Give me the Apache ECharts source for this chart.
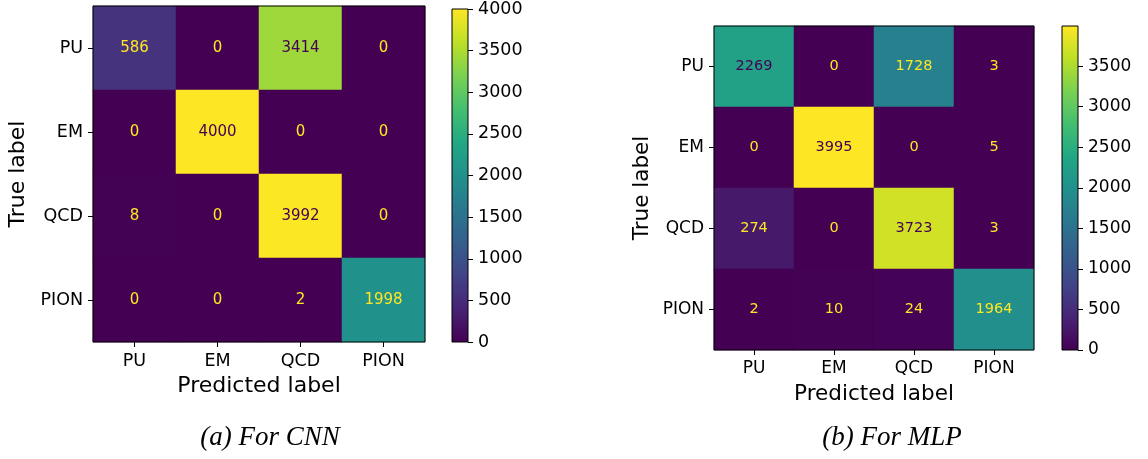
<!DOCTYPE html>
<html>
<head>
<meta charset="utf-8">
<script src="https://cdn.jsdelivr.net/npm/echarts@6/dist/echarts.min.js"></script>
<style>html,body{margin:0;padding:0;background:#fff;}#c{width:1148px;height:459px;}</style>
</head>
<body>
<div id="c"></div>
<script>
// ---- data ----
const classes = ['PU', 'EM', 'QCD', 'PION'];
// rows = true label (top to bottom), columns = predicted label
const cnnMatrix = [
  [586, 0, 3414, 0],
  [0, 4000, 0, 0],
  [8, 0, 3992, 0],
  [0, 0, 2, 1998]
];
const mlpMatrix = [
  [2269, 0, 1728, 3],
  [0, 3995, 0, 5],
  [274, 0, 3723, 3],
  [2, 10, 24, 1964]
];
const cnnColorbarTicks = [0, 500, 1000, 1500, 2000, 2500, 3000, 3500, 4000];
const mlpColorbarTicks = [0, 500, 1000, 1500, 2000, 2500, 3000, 3500];
const captions = ['(a) For CNN', '(b) For MLP'];

const viridis = ['#440154','#482475','#414487','#355f8d','#2a788e','#21918c','#22a884','#44bf70','#7ad151','#bddf26','#fde725'];
const FONT = 'DejaVu Sans';

function flatten(m) {
  let mn = Infinity, mx = -Infinity;
  m.forEach(r => r.forEach(v => { mn = Math.min(mn, v); mx = Math.max(mx, v); }));
  const thr = (mn + mx) / 2;
  const out = [];
  m.forEach((row, i) => row.forEach((v, j) => {
    out.push({ value: [j, i, v], label: { color: v < thr ? viridis[viridis.length - 1] : viridis[0] } });
  }));
  return { data: out, min: mn, max: mx };
}
const cnn = flatten(cnnMatrix);
const mlp = flatten(mlpMatrix);

const grids = [
  { left: 93, top: 6, width: 332, height: 336 },
  { left: 452, top: 6, width: 16, height: 336 },
  { left: 714, top: 26, width: 320, height: 324 },
  { left: 1062, top: 26, width: 16, height: 324 }
].map(g => Object.assign(g, { show: true, borderColor: '#000', borderWidth: 1, backgroundColor: 'transparent', z: 10 }));

function catX(gi, nameGap, fs, nfs) {
  return {
    type: 'category', gridIndex: gi, data: classes, position: 'bottom',
    name: 'Predicted label', nameLocation: 'middle', nameGap: nameGap,
    nameTextStyle: { fontFamily: FONT, fontSize: nfs, color: '#000' },
    axisLine: { show: false },
    axisTick: { show: true, alignWithLabel: true, length: 5, lineStyle: { color: '#000' } },
    axisLabel: { fontFamily: FONT, fontSize: fs, color: '#000', margin: 10 },
    splitLine: { show: false }
  };
}
function catY(gi, nameGap, fs, nfs) {
  return {
    type: 'category', gridIndex: gi, data: classes, inverse: true,
    name: 'True label', nameLocation: 'middle', nameGap: nameGap,
    nameTextStyle: { fontFamily: FONT, fontSize: nfs, color: '#000' },
    axisLine: { show: false },
    axisTick: { show: true, alignWithLabel: true, length: 5, lineStyle: { color: '#000' } },
    axisLabel: { fontFamily: FONT, fontSize: fs, color: '#000', margin: 10 },
    splitLine: { show: false }
  };
}
function cbX(gi) {
  return { type: 'category', gridIndex: gi, data: [''], axisLine: { show: false }, axisTick: { show: false }, axisLabel: { show: false } };
}
function cbY(gi, max, ticks, fs) {
  return {
    type: 'value', gridIndex: gi, position: 'right', min: 0, max: max, interval: 500,
    axisLine: { show: false },
    axisTick: { show: true, length: 5, lineStyle: { color: '#000' }, customValues: ticks },
    axisLabel: { fontFamily: FONT, fontSize: fs, color: '#000', margin: 10, customValues: ticks, formatter: v => String(v) },
    splitLine: { show: false }
  };
}
function gradient() {
  return new echarts.graphic.LinearGradient(0, 1, 0, 0,
    viridis.map((c, i) => ({ offset: i / (viridis.length - 1), color: c })));
}
function heat(xi, yi, d, fs) {
  return {
    type: 'heatmap', xAxisIndex: xi, yAxisIndex: yi, data: d,
    label: { show: true, fontFamily: FONT, fontSize: fs, formatter: p => p.value[2] },
    emphasis: { disabled: true }, itemStyle: { borderWidth: 0 }
  };
}
function cbBar(xi, yi, max) {
  return {
    type: 'bar', xAxisIndex: xi, yAxisIndex: yi, data: [max], barWidth: '100%',
    itemStyle: { color: gradient() }, silent: true
  };
}

const option = {
  animation: false,
  backgroundColor: '#fff',
  grid: grids,
  xAxis: [catX(0, 32, 17.5, 22), cbX(1), catX(2, 33, 17, 21.5), cbX(3)],
  yAxis: [catY(0, 64, 17.5, 22), cbY(1, cnn.max, cnnColorbarTicks, 17.5), catY(2, 61, 17, 21.5), cbY(3, mlp.max, mlpColorbarTicks, 17)],
  visualMap: [
    { show: false, type: 'continuous', seriesIndex: 0, min: cnn.min, max: cnn.max, inRange: { color: viridis } },
    { show: false, type: 'continuous', seriesIndex: 2, min: mlp.min, max: mlp.max, inRange: { color: viridis } }
  ],
  series: [heat(0, 0, cnn.data, 15), cbBar(1, 1, cnn.max), heat(2, 2, mlp.data, 14.5), cbBar(3, 3, mlp.max)],
  graphic: [
    { type: 'text', x: 270, y: 438, style: { text: captions[0], font: 'italic 27px "Liberation Serif"', fill: '#000', textAlign: 'center', textVerticalAlign: 'middle' } },
    { type: 'text', x: 892, y: 438, style: { text: captions[1], font: 'italic 27px "Liberation Serif"', fill: '#000', textAlign: 'center', textVerticalAlign: 'middle' } }
  ]
};
const chart = echarts.init(document.getElementById('c'), null, { renderer: 'canvas' });
chart.setOption(option);
</script>
</body>
</html>
